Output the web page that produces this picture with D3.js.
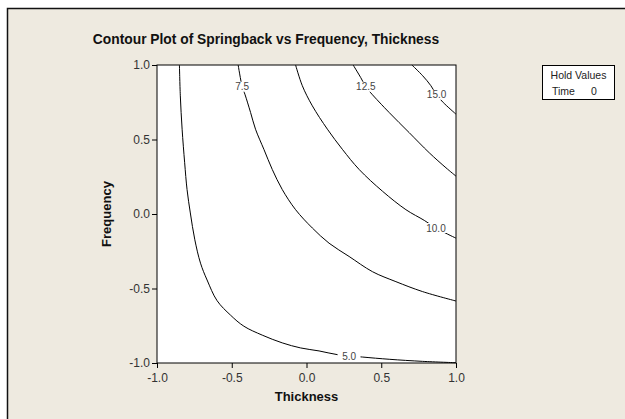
<!DOCTYPE html>
<html>
<head>
<meta charset="utf-8">
<script src="https://cdn.jsdelivr.net/npm/d3@7"></script>
<style>
  html, body { margin: 0; padding: 0; background: #fff; }
  svg { display: block; font-family: "Liberation Sans", Arial, sans-serif; }
</style>
</head>
<body>
<svg id="chart" width="625" height="419"></svg>
<script>
// values (Thickness, Frequency)
const xTicks = [-1.0, -0.5, 0.0, 0.5, 1.0];
const yTicks = [-1.0, -0.5, 0.0, 0.5, 1.0];
const levels = ['5.0', '7.5', '10.0', '12.5', '15.0'];

const contour50 = [
  [-0.850, 1.0], [-0.844, 0.793], [-0.832, 0.569], [-0.815, 0.344], [-0.799, 0.164],
  [-0.777, 0.007], [-0.747, -0.173], [-0.709, -0.330], [-0.665, -0.443], [-0.598, -0.582],
  [-0.508, -0.679], [-0.419, -0.753], [-0.296, -0.813], [-0.162, -0.865], [-0.039, -0.899],
  [0.084, -0.919], [0.207, -0.944], [0.374, -0.960], [0.553, -0.975], [0.777, -0.989],
  [1.0, -0.998]];
const contour75 = [
  [-0.457, 1.0], [-0.430, 0.854], [-0.412, 0.804], [-0.374, 0.681], [-0.341, 0.569],
  [-0.285, 0.434], [-0.229, 0.299], [-0.162, 0.164], [-0.073, 0.029], [0.039, -0.094],
  [0.151, -0.196], [0.285, -0.285], [0.441, -0.387], [0.598, -0.454], [0.777, -0.521],
  [1.0, -0.584]];
const contour100 = [
  [-0.073, 1.0], [-0.028, 0.861], [0.039, 0.726], [0.140, 0.569], [0.240, 0.434],
  [0.352, 0.299], [0.508, 0.153], [0.665, 0.029], [0.788, -0.043], [0.866, -0.094],
  [0.966, -0.146], [1.0, -0.162]];
const contour125 = [
  [0.312, 1.0], [0.363, 0.915], [0.397, 0.854], [0.430, 0.813], [0.553, 0.681],
  [0.687, 0.546], [0.821, 0.411], [0.933, 0.310], [1.0, 0.254]];
const contour150 = [
  [0.705, 1.0], [0.777, 0.928], [0.832, 0.861], [0.870, 0.800], [0.915, 0.748],
  [1.0, 0.670]];

// where each level's label sits on its line
const labelAt = [[0.285, -0.955], [-0.430, 0.854], [0.866, -0.094], [0.397, 0.854], [0.870, 0.800]];

const contours = [contour50, contour75, contour100, contour125, contour150];

const svg = d3.select('#chart');
const plotLeft = 157;
const plotRight = 456;
const plotTop = 65;
const plotBottom = 363;

// beige page inside the outer frame
svg.append('rect')
  .attr('x', 7.5).attr('y', 8.5)
  .attr('width', 700).attr('height', 500)
  .attr('fill', '#eeeae0')
  .attr('stroke', '#111')
  .attr('stroke-width', 1.5);

const x = d3.scaleLinear().domain([-1, 1]).range([plotLeft, plotRight]);
const y = d3.scaleLinear().domain([-1, 1]).range([plotBottom, plotTop]);

svg.append('rect')
  .attr('x', plotLeft).attr('y', plotTop)
  .attr('width', plotRight - plotLeft).attr('height', plotBottom - plotTop)
  .attr('fill', '#fff');

const line = d3.line()
  .x(d => x(d[0]))
  .y(d => y(d[1]))
  .curve(d3.curveCatmullRom);

const plot = svg.append('g');
plot.selectAll('path.contour')
  .data(contours)
  .join('path')
  .attr('class', 'contour')
  .attr('d', line)
  .attr('fill', 'none')
  .attr('stroke', '#000')
  .attr('stroke-width', 1);

// labels with a white patch that breaks the line
const labels = plot.selectAll('g.lab')
  .data(levels)
  .join('g')
  .attr('class', 'lab')
  .attr('transform', (d, i) => `translate(${x(labelAt[i][0])},${y(labelAt[i][1])})`);
labels.append('rect')
  .attr('x', d => -(d.length * 2.8 + 3))
  .attr('y', -5)
  .attr('width', d => d.length * 5.6 + 6)
  .attr('height', 10)
  .attr('fill', '#fff');
labels.append('text')
  .attr('text-anchor', 'middle')
  .attr('dy', '0.35em')
  .attr('font-size', 10)
  .attr('fill', '#444')
  .text(d => d);

// frame
svg.append('rect')
  .attr('x', plotLeft).attr('y', plotTop)
  .attr('width', plotRight - plotLeft).attr('height', plotBottom - plotTop)
  .attr('fill', 'none')
  .attr('stroke', '#000')
  .attr('stroke-width', 1);

const fmt = d => d.toFixed(1);

const xAxis = svg.append('g')
  .attr('transform', `translate(0,${plotBottom})`)
  .call(d3.axisBottom(x).tickValues(xTicks).tickFormat(fmt).tickSize(5).tickPadding(5));
const yAxis = svg.append('g')
  .attr('transform', `translate(${plotLeft},0)`)
  .call(d3.axisLeft(y).tickValues(yTicks).tickFormat(fmt).tickSize(5).tickPadding(2));

[xAxis, yAxis].forEach((g) => {
  g.select('.domain').remove();
  g.selectAll('.tick line').attr('stroke', '#000');
  g.selectAll('.tick text')
    .attr('font-family', '"Liberation Sans", Arial, sans-serif')
    .attr('font-size', 12)
    .attr('fill', '#333');
});

svg.append('text')
  .attr('x', 266).attr('y', 44)
  .attr('text-anchor', 'middle')
  .attr('font-size', 13.8)
  .attr('font-weight', 'bold')
  .attr('fill', '#111')
  .text('Contour Plot of Springback vs Frequency, Thickness');

svg.append('text')
  .attr('x', (plotLeft + plotRight) / 2).attr('y', 401)
  .attr('text-anchor', 'middle')
  .attr('font-size', 13)
  .attr('font-weight', 'bold')
  .attr('fill', '#111')
  .text('Thickness');

svg.append('text')
  .attr('transform', `translate(110.5,${(plotTop + plotBottom) / 2}) rotate(-90)`)
  .attr('text-anchor', 'middle')
  .attr('font-size', 13)
  .attr('font-weight', 'bold')
  .attr('fill', '#111')
  .text('Frequency');

// hold values box
const hold = svg.append('g');
hold.append('rect')
  .attr('x', 542.5).attr('y', 65.5)
  .attr('width', 72).attr('height', 34)
  .attr('fill', '#fff')
  .attr('stroke', '#000');
hold.append('text')
  .attr('x', 578.5).attr('y', 79)
  .attr('text-anchor', 'middle')
  .attr('font-size', 10.5)
  .attr('fill', '#222')
  .text('Hold Values');
hold.append('text')
  .attr('x', 552).attr('y', 95)
  .attr('font-size', 10.5)
  .attr('fill', '#222')
  .text('Time');
hold.append('text')
  .attr('x', 594).attr('y', 95)
  .attr('text-anchor', 'middle')
  .attr('font-size', 10.5)
  .attr('fill', '#222')
  .text('0');
</script>
</body>
</html>
